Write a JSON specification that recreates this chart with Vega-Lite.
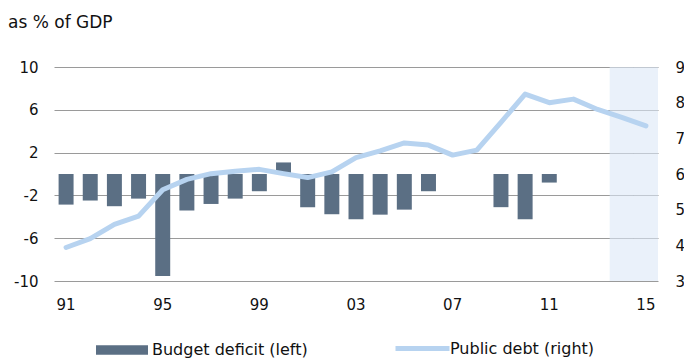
{
  "$schema": "https://vega.github.io/schema/vega-lite/v6.json",
  "width": 604,
  "height": 214,
  "autosize": {"type": "none"},
  "padding": {"left": 54, "top": 67, "right": 26, "bottom": 79},
  "background": "white",
  "config": {
    "view": {"stroke": null},
    "font": "DejaVu Sans",
    "axis": {"labelFont": "DejaVu Sans", "labelFontSize": 15, "labelColor": "#111", "domain": false, "ticks": false, "title": null},
    "legend": {"labelFont": "DejaVu Sans", "labelFontSize": 16, "labelColor": "#111", "padding": 0}
  },
  "title": {
    "text": "as % of GDP",
    "anchor": "start",
    "frame": "group",
    "font": "DejaVu Sans",
    "fontSize": 17,
    "fontWeight": "normal",
    "color": "#111",
    "baseline": "alphabetic",
    "offset": 15,
    "dx": -46
  },
  "data": {
    "values": [
      {"year": 1991, "deficit": -2.86, "debt": 3.94, "forecast": false},
      {"year": 1992, "deficit": -2.48, "debt": 4.19, "forecast": false},
      {"year": 1993, "deficit": -3.01, "debt": 4.59, "forecast": false},
      {"year": 1994, "deficit": -2.3, "debt": 4.82, "forecast": false},
      {"year": 1995, "deficit": -9.54, "debt": 5.56, "forecast": false},
      {"year": 1996, "deficit": -3.42, "debt": 5.85, "forecast": false},
      {"year": 1997, "deficit": -2.8, "debt": 6.01, "forecast": false},
      {"year": 1998, "deficit": -2.3, "debt": 6.08, "forecast": false},
      {"year": 1999, "deficit": -1.61, "debt": 6.13, "forecast": false},
      {"year": 2000, "deficit": 1.08, "debt": 6.01, "forecast": false},
      {"year": 2001, "deficit": -3.1, "debt": 5.9, "forecast": false},
      {"year": 2002, "deficit": -3.76, "debt": 6.06, "forecast": false},
      {"year": 2003, "deficit": -4.23, "debt": 6.46, "forecast": false},
      {"year": 2004, "deficit": -3.8, "debt": 6.65, "forecast": false},
      {"year": 2005, "deficit": -3.33, "debt": 6.87, "forecast": false},
      {"year": 2006, "deficit": -1.61, "debt": 6.81, "forecast": false},
      {"year": 2007, "deficit": null, "debt": 6.53, "forecast": false},
      {"year": 2008, "deficit": null, "debt": 6.67, "forecast": false},
      {"year": 2009, "deficit": -3.1, "debt": 7.45, "forecast": false},
      {"year": 2010, "deficit": -4.23, "debt": 8.24, "forecast": false},
      {"year": 2011, "deficit": -0.8, "debt": 8.0, "forecast": false},
      {"year": 2012, "deficit": null, "debt": 8.1, "forecast": false},
      {"year": 2013, "deficit": null, "debt": 7.81, "forecast": false},
      {"year": 2014, "deficit": null, "debt": 7.59, "forecast": true},
      {"year": 2015, "deficit": null, "debt": 7.35, "forecast": true}
    ]
  },
  "encoding": {
    "x": {
      "field": "year",
      "type": "ordinal",
      "scale": {"paddingInner": 0.38, "paddingOuter": 0.19},
      "axis": {
        "values": [1991, 1995, 1999, 2003, 2007, 2011, 2015],
        "labelExpr": "substring(datum.label, 2)",
        "labelAngle": 0,
        "labelPadding": 16,
        "grid": false
      }
    }
  },
  "layer": [
    {
      "layer": [
        {
          "transform": [{"filter": "datum.forecast"}],
          "mark": {"type": "bar", "fill": "#dce8f6", "opacity": 0.6, "width": {"band": 1.6129}},
          "encoding": {
            "y": {"datum": 10, "type": "quantitative"},
            "y2": {"datum": -10}
          }
        },
        {
          "mark": {"type": "bar", "color": "#5b6f84"},
          "encoding": {
            "y": {
              "field": "deficit",
              "type": "quantitative",
              "scale": {"domain": [-10, 10], "nice": false, "zero": false},
              "axis": {
                "values": [-10, -6, -2, 2, 6, 10],
                "labelExpr": "toString(datum.value)",
                "grid": true,
                "gridColor": "#9a9a9a",
                "gridWidth": 1,
                "labelPadding": 16,
                "orient": "left"
              }
            },
            "fill": {
              "datum": "Budget deficit (left)",
              "type": "nominal",
              "scale": {"range": ["#5b6f84"]},
              "legend": {
                "orient": "none",
                "legendX": 42,
                "legendY": 257,
                "title": null,
                "symbolType": "M-1,-0.18H1V0.18H-1Z",
                "symbolSize": 2704,
                "symbolStrokeWidth": 0,
                "labelOffset": 4
              }
            }
          }
        },
        {
          "mark": {"type": "rule", "color": "#747474", "strokeWidth": 4},
          "encoding": {
            "y": {"datum": 0, "type": "quantitative"}
          }
        }
      ]
    },
    {
      "mark": {"type": "line", "strokeWidth": 5, "strokeJoin": "round", "strokeCap": "round"},
      "encoding": {
        "y": {
          "field": "debt",
          "type": "quantitative",
          "scale": {"domain": [3, 9], "nice": false, "zero": false},
          "axis": {
            "values": [3, 4, 5, 6, 7, 8, 9],
            "grid": false,
            "labelPadding": 17,
            "orient": "right"
          }
        },
        "stroke": {
          "datum": "Public debt (right)",
          "type": "nominal",
          "scale": {"range": ["#b7d3f0"]},
          "legend": {
            "orient": "none",
            "legendX": 339,
            "legendY": 252,
            "title": null,
            "symbolType": "stroke",
            "symbolSize": 2916,
            "symbolStrokeWidth": 5,
            "labelOffset": -2
          }
        }
      }
    }
  ],
  "resolve": {"scale": {"y": "independent"}}
}
